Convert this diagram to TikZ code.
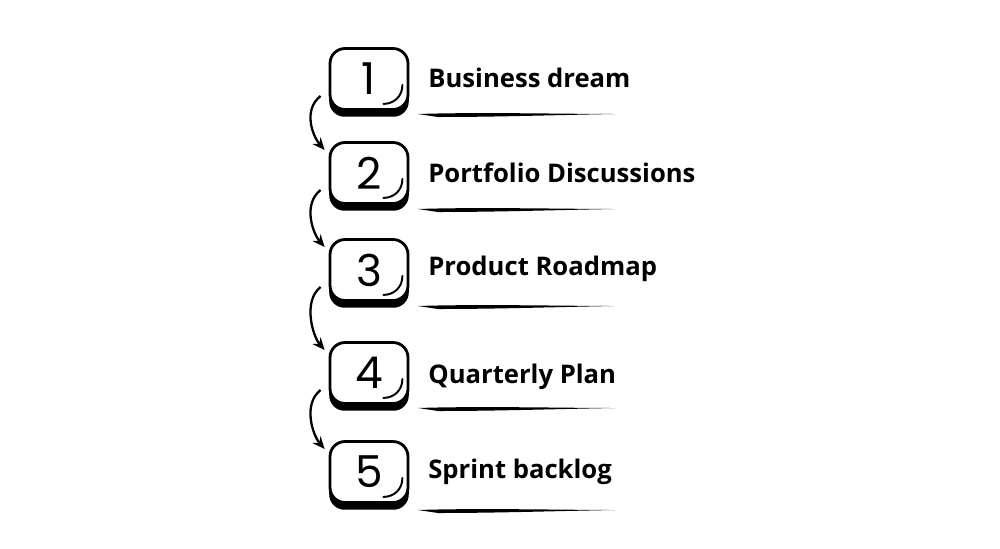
\documentclass[tikz,border=0pt]{standalone}
\usepackage{fontspec}
\setmainfont{Open Sans}
\newfontfamily\numfont{Poppins}
\usepackage{tikz}
\usetikzlibrary{
	arrows.meta,
	calc,
	shadows,
	positioning
}

\tikzset{
	numbox/.style={draw, line width=1.6pt, fill=white, rounded corners=0.3cm,
		minimum width=1.56cm, minimum height=1.22cm, inner sep=0pt,
		font=\numfont\fontsize{25}{25}\selectfont,
		drop shadow={shadow xshift=0pt, shadow yshift=-0.13cm, shadow scale=1.02, fill=black, opacity=1}},
	steplabel/.style={anchor=west, inner sep=0pt, font=\bfseries\fontsize{14.6}{17}\selectfont},
	gloss/.style={line width=1.1pt, line cap=round},
	flowarrow/.style={line width=1.3pt, -{Stealth[length=7pt, width=6pt]}}
}

\begin{document}
\begin{tikzpicture}[x=0.02cm, y=-0.02cm]
		\useasboundingbox (0,0) rectangle (1000,548);
		\node[numbox] (b1) at (369,79) {1};
		\node[numbox] (b2) at (369,173) {2};
		\node[numbox] (b3) at (369,270) {3};
		\node[numbox] (b4) at (369,373) {4};
		\node[numbox] (b5) at (369,472) {5};
		\node[steplabel] (t1) at (428,78) {Business dream};
		\node[steplabel] (t2) at (428,173) {Portfolio Discussions};
		\node[steplabel] (t3) at (428,269) {Product Roadmap};
		\node[steplabel] (t4) at (428,377) {Quarterly Plan};
		\node[steplabel] (t5) at (428,472) {Sprint backlog};
		% little curved strokes inside the keys
		\draw[gloss] ([shift={(-7,-26)}]b1.south east) .. controls +(0,12) and +(10,0) .. +(-19,19);
		\draw[gloss] ([shift={(-7,-26)}]b2.south east) .. controls +(0,12) and +(10,0) .. +(-19,19);
		\draw[gloss] ([shift={(-7,-26)}]b3.south east) .. controls +(0,12) and +(10,0) .. +(-19,19);
		\draw[gloss] ([shift={(-7,-26)}]b4.south east) .. controls +(0,12) and +(10,0) .. +(-19,19);
		\draw[gloss] ([shift={(-7,-26)}]b5.south east) .. controls +(0,12) and +(10,0) .. +(-19,19);
		% underlines
		\fill ([shift={(-10,36)}]t1.west) .. controls +(60,-2) and +(-50,0) .. +(197,0) .. controls +(-60,1) and +(60,0) .. +(20,3) -- cycle;
		\fill ([shift={(-10,36)}]t2.west) .. controls +(60,-2) and +(-50,0) .. +(197,0) .. controls +(-60,1) and +(60,0) .. +(20,3) -- cycle;
		\fill ([shift={(-10,37)}]t3.west) .. controls +(60,-2) and +(-50,0) .. +(197,0) .. controls +(-60,1) and +(60,0) .. +(20,3) -- cycle;
		\fill ([shift={(-10,31)}]t4.west) .. controls +(60,-2) and +(-50,0) .. +(197,0) .. controls +(-60,1) and +(60,0) .. +(20,3) -- cycle;
		\fill ([shift={(-10,38)}]t5.west) .. controls +(60,-2) and +(-50,0) .. +(197,0) .. controls +(-60,1) and +(60,0) .. +(20,3) -- cycle;
		% arrows between the keys
		\draw[flowarrow] ([shift={(-8,17)}]b1.west) .. controls +(-18,14) and +(-12,-14) .. ([shift={(-4,-23)}]b2.west);
		\draw[flowarrow] ([shift={(-8,17)}]b2.west) .. controls +(-18,14) and +(-12,-14) .. ([shift={(-4,-23)}]b3.west);
		\draw[flowarrow] ([shift={(-8,17)}]b3.west) .. controls +(-18,14) and +(-12,-14) .. ([shift={(-4,-23)}]b4.west);
		\draw[flowarrow] ([shift={(-8,17)}]b4.west) .. controls +(-18,14) and +(-12,-14) .. ([shift={(-4,-23)}]b5.west);
\end{tikzpicture}
\end{document}
